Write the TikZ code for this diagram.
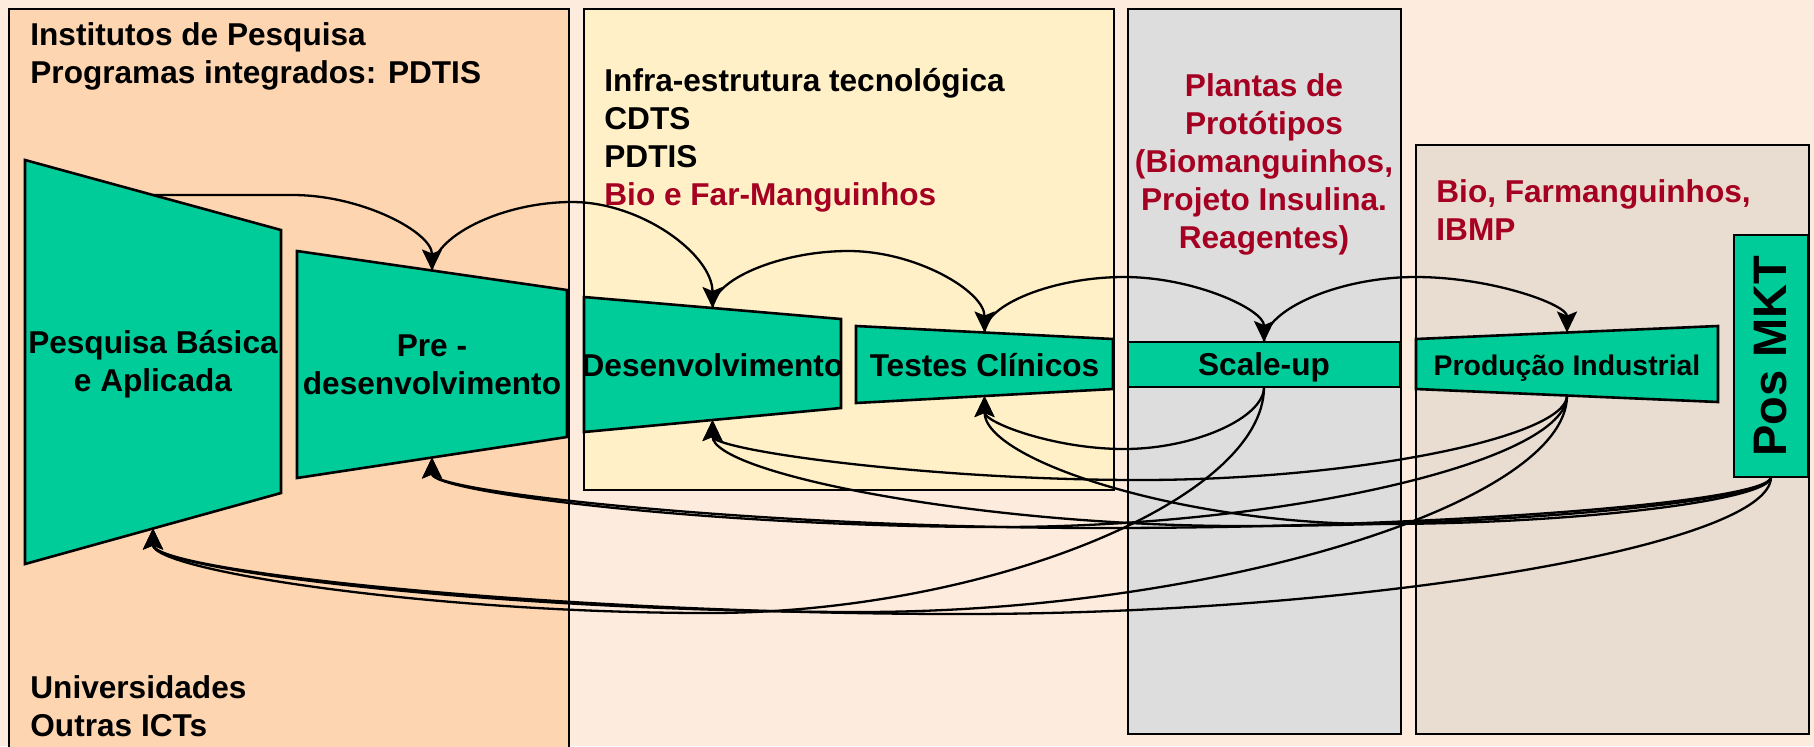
\documentclass[tikz,border=0pt]{standalone}
\usepackage{fontspec}
\setmainfont{Liberation Sans}
\usetikzlibrary{arrows.meta}
\definecolor{bgpeach}{HTML}{FDEBDD}
\definecolor{orangepanel}{HTML}{FDD6B1}
\definecolor{yellowpanel}{HTML}{FFF0C8}
\definecolor{greypanel}{HTML}{DDDDDD}
\definecolor{tanpanel}{HTML}{E9DCD0}
\definecolor{stagegreen}{HTML}{00CC99}
\definecolor{darkred}{HTML}{A50021}
\tikzset{panelbox/.style={draw=black, line width=1pt},
    stagebox/.style={draw=black, line width=1.3pt, fill=stagegreen},
    bigtext/.style={font=\bfseries\fontsize{15.8}{19}\selectfont, inner sep=0pt},
    flow/.style={line width=1.15pt, -{Stealth[length=10.5pt,width=10pt,inset=2pt]}},
    }

\begin{document}
\begin{tikzpicture}[x=0.5pt,y=-0.5pt]
\useasboundingbox (0,0) rectangle (1814,746);
\fill[bgpeach] (0,0) rectangle (1814,746);
% panels
\draw[panelbox,fill=orangepanel] (9,9) rectangle (569,780);
\draw[panelbox,fill=yellowpanel] (584,9) rectangle (1114,490);
\draw[panelbox,fill=greypanel] (1128,9) rectangle (1401,734);
\draw[panelbox,fill=tanpanel] (1416,145) rectangle (1809,734);
\node[bigtext,anchor=north west,align=left] (inst) at (30,22.5) {Institutos de Pesquisa\\Programas integrados: PDTIS};
\node[bigtext,anchor=north west,align=left] (univ) at (30,675.5) {Universidades\\Outras ICTs};
\node[bigtext,anchor=north west,align=left] (infra) at (604,67.5) {Infra-estrutura tecnológica\\CDTS\\PDTIS\\{\color{darkred}Bio e Far-Manguinhos}};
\node[bigtext,anchor=north,align=center,text=darkred] (plantas) at (1264,73.5) {Plantas de\\Protótipos\\(Biomanguinhos,\\Projeto Insulina.\\Reagentes)};
\node[bigtext,anchor=north west,align=left,text=darkred] (bio) at (1436,179.5) {Bio, Farmanguinhos,\\IBMP};
% stages
\draw[stagebox] (25,160) -- (281,230) -- (281,493) -- (25,564) -- cycle;
\node[bigtext,align=center] (pb) at (153,364) {Pesquisa Básica\\e Aplicada};
\draw[stagebox] (297,251) -- (567,290) -- (567,437) -- (297,478) -- cycle;
\node[bigtext,align=center] (pre) at (432,365) {Pre -\\desenvolvimento};
\draw[stagebox] (584,297) -- (841,319) -- (841,408) -- (584,432) -- cycle;
\node[bigtext,anchor=base] (dev) at (712.5,376) {Desenvolvimento};
\draw[stagebox] (856,326) -- (1113,339) -- (1113,389) -- (856,403) -- cycle;
\node[bigtext,anchor=base] (tc) at (984.5,376) {Testes Clínicos};
\draw[stagebox] (1128,342) rectangle (1400,387);
\node[bigtext,anchor=base] (su) at (1264,375) {Scale-up};
\draw[stagebox] (1416,339) -- (1718,326) -- (1718,402) -- (1416,389) -- cycle;
\node[bigtext,anchor=base,font=\bfseries\fontsize{14.2}{17}\selectfont] (pi) at (1567,375) {Produção Industrial};
\draw[stagebox] (1734,235) rectangle (1808,477);
\node[bigtext,rotate=90,font=\bfseries\fontsize{23.5}{27}\selectfont] (pos) at (1771,356) {Pos MKT};
% connection points
\coordinate (pb-t) at (153,195);     \coordinate (pb-b) at (153,528.5);
\coordinate (pre-t) at (432,270.5);  \coordinate (pre-b) at (432,457.5);
\coordinate (dev-t) at (712.5,308);  \coordinate (dev-b) at (712.5,420);
\coordinate (tc-t) at (984.5,332.5); \coordinate (tc-b) at (984.5,396);
\coordinate (su-t) at (1264,342);    \coordinate (su-b) at (1264,387);
\coordinate (pi-t) at (1567,332.5);  \coordinate (pi-b) at (1567,395.5);
\coordinate (pos-b) at (1771,477);
% forward
\draw[flow] (pb-t) -- (292.5,195) .. controls +(70,0) and +(0,-38) .. (pre-t);
\draw[flow] (pre-t) .. controls +(0,-34) and +(-70,0) .. (572,202) .. controls +(70,0) and +(0,-53) .. (dev-t);
\draw[flow] (dev-t) .. controls +(0,-28.5) and +(-68,0) .. (848.5,251) .. controls +(68,0) and +(0,-41) .. (tc-t);
\draw[flow] (tc-t) .. controls +(0,-28) and +(-70,0) .. (1124,277) .. controls +(70,0) and +(0,-32.5) .. (su-t);
\draw[flow] (su-t) .. controls +(0,-32.5) and +(-76,0) .. (1415.5,277) .. controls +(76,0) and +(0,-28) .. (pi-t);
% back from Scale-up
\draw[flow] (su-b) .. controls +(0,31) and +(70,0) .. (1124,449) .. controls +(-70,0) and +(0,26.5) .. (tc-b);
\draw[flow] (su-b) .. controls +(0,113) and +(278,0) .. (708.5,613) .. controls +(-278,0) and +(0,42) .. (pb-b);
% back from Produção
\draw[flow] (pi-b) .. controls +(0,42) and +(213.6,0) .. (1139.75,480) .. controls +(-213.6,0) and +(0,30) .. (dev-b);
\draw[flow] (pi-b) .. controls +(0,66) and +(283.75,0) .. (999.5,527) .. controls +(-283.75,0) and +(0,35) .. (pre-b);
\draw[flow] (pi-b) .. controls +(0,108) and +(353.5,0) .. (860,612) .. controls +(-353.5,0) and +(0,42) .. (pb-b);
% back from Pos MKT
\draw[flow] (pos-b) .. controls +(0,23.5) and +(196.6,0) .. (1377.75,524) .. controls +(-196.6,0) and +(0,64) .. (tc-b);
\draw[flow] (pos-b) .. controls +(0,24.5) and +(264.6,0) .. (1241.75,526) .. controls +(-264.6,0) and +(0,53) .. (dev-b);
\draw[flow] (pos-b) .. controls +(0,25.5) and +(334.75,0) .. (1101.5,528) .. controls +(-334.75,0) and +(0,35) .. (pre-b);
\draw[flow] (pos-b) .. controls +(0,68.5) and +(404.5,0) .. (962,614) .. controls +(-404.5,0) and +(0,43) .. (pb-b);
\end{tikzpicture}
\end{document}
